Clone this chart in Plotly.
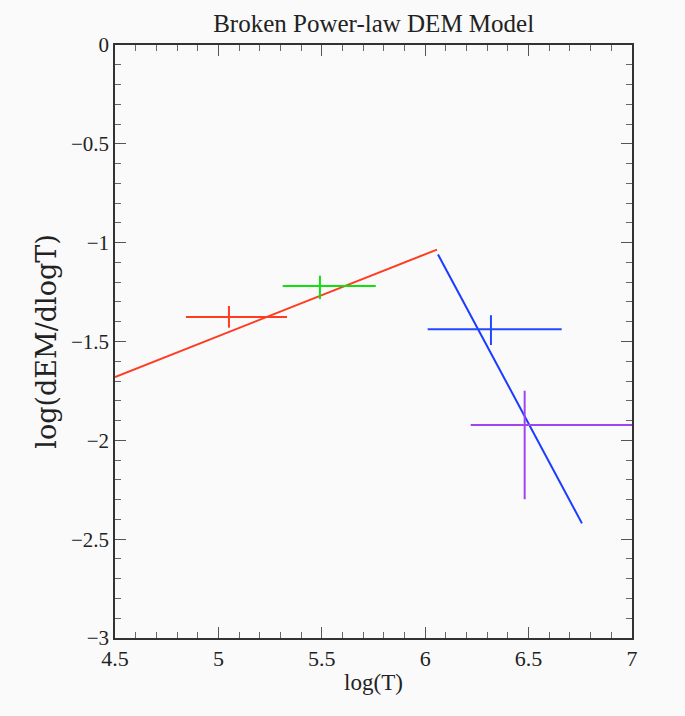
import plotly.graph_objects as go

# Broken power-law model segments (log T, log DEM)
low_T = [4.5, 6.057]
low_dem = [-1.68, -1.035]
high_T = [6.062, 6.758]
high_dem = [-1.06, -2.42]

# Data points with error ranges
pt_T = [5.051, 5.491, 6.318, 6.481]
pt_dem = [-1.376, -1.219, -1.438, -1.922]
pt_T_lo = [4.843, 5.311, 6.012, 6.220]
pt_T_hi = [5.332, 5.761, 6.660, 7.20]
pt_dem_lo = [-1.43, -1.286, -1.518, -2.298]
pt_dem_hi = [-1.32, -1.167, -1.367, -1.749]
pt_colors = ["#ff3b22", "#10e010", "#2448ff", "#a046f0"]

SERIF = "Liberation Serif, Times New Roman, serif"

fig = go.Figure()
fig.add_trace(go.Scatter(x=low_T, y=low_dem, mode="lines",
                         line=dict(color="#ff3b22", width=2), showlegend=False))
fig.add_trace(go.Scatter(x=high_T, y=high_dem, mode="lines",
                         line=dict(color="#1a3cff", width=2), showlegend=False))

for i in range(len(pt_T)):
    fig.add_trace(go.Scatter(
        x=[pt_T[i]], y=[pt_dem[i]], mode="markers",
        marker=dict(size=1, color=pt_colors[i], opacity=0),
        error_x=dict(type="data", symmetric=False,
                     array=[pt_T_hi[i] - pt_T[i]], arrayminus=[pt_T[i] - pt_T_lo[i]],
                     color=pt_colors[i], thickness=2, width=0),
        error_y=dict(type="data", symmetric=False,
                     array=[pt_dem_hi[i] - pt_dem[i]], arrayminus=[pt_dem[i] - pt_dem_lo[i]],
                     color=pt_colors[i], thickness=2, width=0),
        showlegend=False))

axis_common = dict(
    showgrid=False, zeroline=False, showline=True, linecolor="#333333", linewidth=1.6,
    mirror="allticks", ticks="inside", ticklen=11, tickwidth=1.3, tickcolor="#555555",
    minor=dict(ticks="inside", ticklen=6, tickwidth=1.3, tickcolor="#666666", dtick=0.1),
    dtick=0.5,
)

fig.update_layout(
    width=685, height=716,
    margin=dict(l=115, r=53, t=45, b=78),
    paper_bgcolor="#fafafa", plot_bgcolor="#fafafa",
    title=dict(text="Broken Power-law DEM Model", x=0.5455, xanchor="center",
               y=0.967, yanchor="middle",
               font=dict(family=SERIF, size=25, color="#222222")),
    xaxis=dict(range=[4.5, 7], tick0=4.5,
               tickfont=dict(family=SERIF, size=22, color="#222222"),
               title=dict(text="log(T)", standoff=4,
                          font=dict(family=SERIF, size=23, color="#222222")),
               **axis_common),
    yaxis=dict(range=[-3, 0], tick0=0,
               tickfont=dict(family=SERIF, size=21, color="#222222"),
               title=dict(text="log(dEM/dlogT)", standoff=6,
                          font=dict(family="DejaVu Serif, serif", size=27, color="#222222")),
               **axis_common),
)

fig.write_html("out.html")
